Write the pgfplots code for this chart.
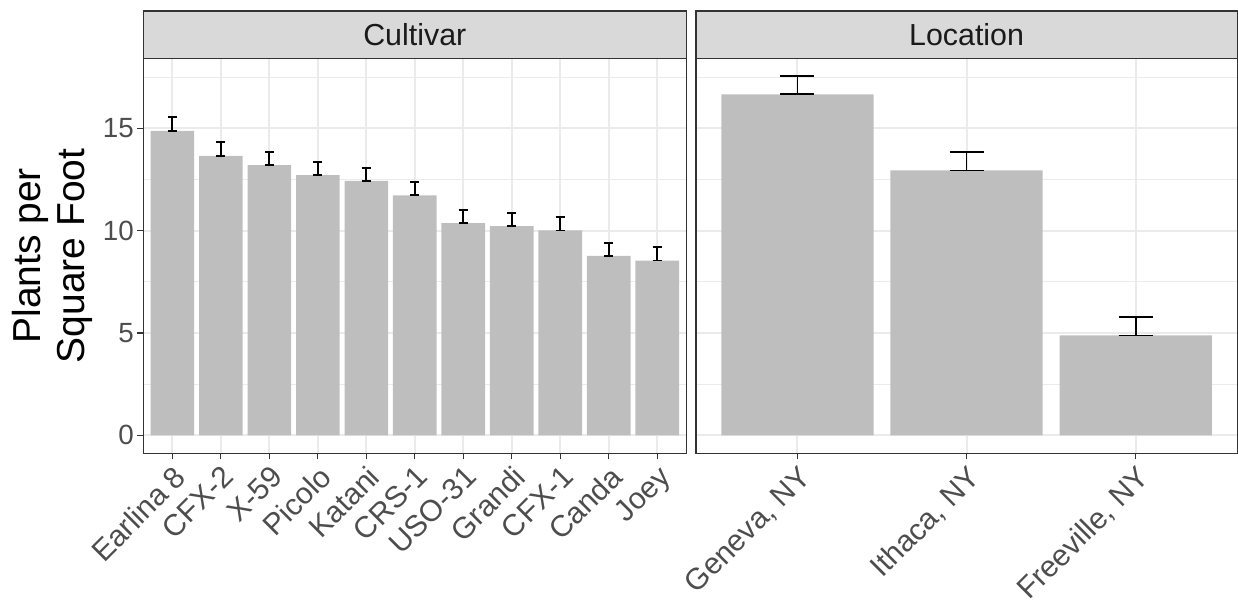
\documentclass[border=0pt]{standalone}
\usepackage{pgfplots}
\pgfplotsset{compat=1.18}
\usetikzlibrary{calc}
\usepackage{fontspec}
\setmainfont{Liberation Sans}
\definecolor{gthirty}{HTML}{4D4D4D}
\definecolor{gtwenty}{HTML}{333333}
\definecolor{gten}{HTML}{1A1A1A}
\definecolor{ggrid}{HTML}{EBEBEB}
\definecolor{gstrip}{HTML}{D9D9D9}
\definecolor{gbar}{HTML}{BEBEBE}
\pgfplotsset{
  panel/.style={
    scale only axis,
    height=197.5pt,
    ymin=-0.877, ymax=18.417,
    ytick={0,5,10,15},
    minor ytick={2.5,7.5,12.5,17.5},
    xtick=data,
    ymajorgrids, xmajorgrids, yminorgrids,
    major grid style={ggrid, line width=1pt},
    minor grid style={ggrid, line width=0.5pt},
    axis line style={gtwenty, line width=0.6pt},
    tick align=outside,
    major tick length=3pt,
    minor tick length=0pt,
    tick style={gtwenty, line width=0.6pt},
    xtick pos=bottom, ytick pos=left,
    /pgf/number format/assume math mode=true,
    yticklabel style={font=\fontsize{13.9}{15}\selectfont, text=gthirty, inner sep=1.5pt},
    xticklabel style={font=\fontsize{15}{17}\selectfont, text=gthirty, rotate=45, anchor=north east, inner sep=1.5pt},
    axis on top=false,
  },
}
\begin{document}
\begin{tikzpicture}
\path[use as bounding box] (0,0) rectangle (619pt,302pt);
\begin{axis}[panel,
  name=left,
  at={(71.65pt,75.35pt)}, anchor=south west,
  width=271.5pt,
  xmin=0.4, xmax=11.6,
  xticklabels={Earlina 8,CFX-2,X-59,Picolo,Katani,CRS-1,USO-31,Grandi,CFX-1,Canda,Joey},
  ylabel={Plants per\\Square Foot},
  ylabel style={at={(axis description cs:-0.168,0.5)}, anchor=center, align=center, font=\fontsize{19.5}{22}\selectfont, text=black},
]
\addplot[ybar, bar width=0.9, fill=gbar, draw=none,
  error bars/.cd, y dir=both, y explicit,
  error bar style={black, line width=0.9pt},
  error mark options={rotate=90, black, mark size=2.3pt, line width=0.9pt}]
coordinates {
(1,14.87) += (0,0.66) -= (0,0)
(2,13.65) += (0,0.66) -= (0,0)
(3,13.20) += (0,0.65) -= (0,0)
(4,12.71) += (0,0.65) -= (0,0)
(5,12.43) += (0,0.62) -= (0,0)
(6,11.72) += (0,0.66) -= (0,0)
(7,10.37) += (0,0.65) -= (0,0)
(8,10.22) += (0,0.65) -= (0,0)
(9,10.01) += (0,0.65) -= (0,0)
(10,8.77) += (0,0.63) -= (0,0)
(11,8.54) += (0,0.65) -= (0,0)
};
\end{axis}
\begin{axis}[panel,
  name=right,
  at={(348pt,75.35pt)}, anchor=south west,
  width=270.6pt,
  xmin=0.4, xmax=3.6,
  xticklabels={{Geneva, NY},{Ithaca, NY},{Freeville, NY}},
  yticklabels={},
  ytick style={draw=none},
]
\addplot[ybar, bar width=0.9, fill=gbar, draw=none,
  error bars/.cd, y dir=both, y explicit,
  error bar style={black, line width=0.8pt},
  error mark options={rotate=90, black, mark size=8.5pt, line width=0.8pt}]
coordinates {
(1,16.66) += (0,0.88) -= (0,0)
(2,12.94) += (0,0.89) -= (0,0)
(3,4.88) += (0,0.90) -= (0,0)
};
\end{axis}
\draw[fill=gstrip, draw=gtwenty, line width=0.6pt] (left.north west) rectangle ([yshift=23.65pt]left.north east);
\node[text=gten, font=\fontsize{15.2}{17}\selectfont] at ($(left.north)+(0,11.8pt)$) {Cultivar};
\draw[fill=gstrip, draw=gtwenty, line width=0.6pt] (right.north west) rectangle ([yshift=23.65pt]right.north east);
\node[text=gten, font=\fontsize{15.2}{17}\selectfont] at ($(right.north)+(0,11.8pt)$) {Location};
\end{tikzpicture}
\end{document}
